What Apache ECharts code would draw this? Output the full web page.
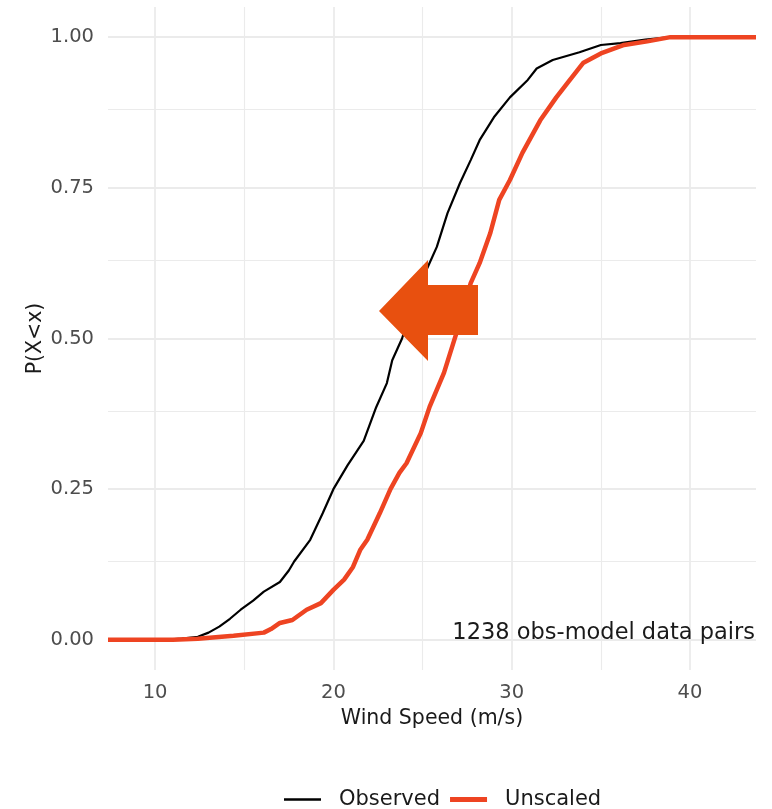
<!DOCTYPE html>
<html>
<head>
<meta charset="utf-8">
<title>Wind speed ECDF</title>
<script src="https://cdn.jsdelivr.net/npm/echarts@6/dist/echarts.min.js"></script>
<style>
  html, body { margin: 0; padding: 0; background: #ffffff; }
  #main { width: 772px; height: 809px; }
</style>
</head>
<body>
<div id="main"></div>
<script>
// axis ticks
var xTicks = [10, 20, 30, 40];
var xMinor = [15, 25, 35];
var yTicks = [0, 0.25, 0.5, 0.75, 1];
var yMinor = [0.125, 0.375, 0.625, 0.875];

// Observed ECDF
var obsX = [7.36, 10.5, 11.5, 12.4, 13.0, 13.6, 14.2, 14.8, 15.5, 16.1, 17.0, 17.5, 17.8, 18.7, 19.4, 20.0, 20.8, 21.7, 22.4, 23.0, 23.3, 23.85, 24.4, 25.0, 25.3, 25.8, 26.4, 27.1, 27.7, 28.2, 29.0, 29.9, 30.9, 31.4, 32.3, 33.8, 35.0, 36.1, 37.5, 38.9, 43.7];
var obsY = [0, 0, 0.002, 0.005, 0.012, 0.022, 0.035, 0.05, 0.065, 0.08, 0.096, 0.115, 0.13, 0.166, 0.21, 0.25, 0.29, 0.33, 0.386, 0.426, 0.464, 0.50, 0.55, 0.60, 0.619, 0.652, 0.708, 0.758, 0.796, 0.829, 0.867, 0.90, 0.929, 0.948, 0.962, 0.975, 0.987, 0.99, 0.996, 1.0, 1.0];

// Unscaled model ECDF
var unsX = [7.36, 11.0, 12.4, 14.4, 16.1, 16.5, 17.0, 17.7, 18.5, 19.3, 20.0, 20.6, 21.1, 21.5, 21.9, 22.6, 23.2, 23.7, 24.1, 24.9, 25.4, 26.2, 26.9, 27.3, 27.7, 28.2, 28.8, 29.3, 29.9, 30.6, 31.6, 32.5, 33.1, 34.0, 35.0, 36.3, 37.6, 38.9, 43.7];
var unsY = [0, 0, 0.002, 0.007, 0.012, 0.018, 0.028, 0.033, 0.05, 0.061, 0.083, 0.10, 0.121, 0.149, 0.166, 0.21, 0.25, 0.277, 0.293, 0.343, 0.387, 0.443, 0.509, 0.55, 0.592, 0.625, 0.675, 0.73, 0.763, 0.808, 0.862, 0.90, 0.923, 0.957, 0.973, 0.987, 0.993, 1.0, 1.0];

var nPairs = 1238;

function pairs(xs, ys) {
  var out = [];
  for (var i = 0; i < xs.length; i++) out.push([xs[i], ys[i]]);
  return out;
}

var gridMajor = { color: '#EBEBEB', width: 1.8, type: 'solid' };
var gridMinor = { color: '#EBEBEB', width: 1.1, type: 'solid' };
var gridLines = [];
xTicks.forEach(function (v) { gridLines.push({ xAxis: v, lineStyle: gridMajor }); });
xMinor.forEach(function (v) { gridLines.push({ xAxis: v, lineStyle: gridMinor }); });
yTicks.forEach(function (v) { gridLines.push({ yAxis: v, lineStyle: gridMajor }); });
yMinor.forEach(function (v) { gridLines.push({ yAxis: v, lineStyle: gridMinor }); });

var font = 'DejaVu Sans';
var myChart = echarts.init(document.getElementById('main'));

var option = {
  animation: false,
  textStyle: { fontFamily: font },
  grid: { left: 108, right: 16, top: 7, bottom: 139, containLabel: false },
  xAxis: {
    type: 'value',
    min: 7.36,
    max: 43.7,
    name: 'Wind Speed (m/s)',
    nameLocation: 'middle',
    nameGap: 37,
    nameTextStyle: { color: '#1a1a1a', fontSize: 20.5, fontFamily: font },
    axisLine: { show: false },
    axisTick: { show: false },
    splitLine: { show: false },
    axisLabel: {
      customValues: xTicks,
      color: '#4D4D4D',
      fontSize: 19.5,
      margin: 13,
      fontFamily: font
    }
  },
  yAxis: {
    type: 'value',
    min: -0.05,
    max: 1.05,
    name: 'P(X<x)',
    nameLocation: 'middle',
    nameRotate: 90,
    nameGap: 62,
    nameMoveOverlap: false,
    nameTextStyle: { color: '#1a1a1a', fontSize: 20.5, fontFamily: font },
    axisLine: { show: false },
    axisTick: { show: false },
    splitLine: { show: false },
    axisLabel: {
      customValues: yTicks,
      color: '#4D4D4D',
      fontSize: 19.5,
      margin: 14,
      fontFamily: font,
      formatter: function (v) { return v.toFixed(2); }
    }
  },
  legend: {
    data: [
      { name: 'Observed', icon: 'path://M0,0L0.001,0L0.001,6L0,6Z M0,1.8H37V4.2H0Z' },
      { name: 'Unscaled', icon: 'path://M0,0L0.001,0L0.001,6L0,6Z M0,0.6H37V5.4H0Z' }
    ],
    left: 279,
    top: 784,
    itemWidth: 37,
    itemHeight: 6,
    itemGap: 10,
    textStyle: { color: '#1a1a1a', fontSize: 21, fontFamily: font, padding: [0, 0, 0, 13] }
  },
  series: [
    {
      name: 'gridlines',
      type: 'line',
      data: [],
      silent: true,
      markLine: {
        silent: true,
        z: 0,
        symbol: 'none',
        label: { show: false },
        emphasis: { disabled: true },
        data: gridLines
      }
    },
    {
      name: 'Observed',
      type: 'line',
      data: pairs(obsX, obsY),
      showSymbol: false,
      symbol: 'none',
      lineStyle: { color: '#000000', width: 2.2 },
      itemStyle: { color: '#000000' },
      z: 3
    },
    {
      name: 'Unscaled',
      type: 'line',
      data: pairs(unsX, unsY),
      showSymbol: false,
      symbol: 'none',
      lineStyle: { color: '#EE4422', width: 4.5 },
      itemStyle: { color: '#EE4422' },
      z: 4
    }
  ],
  graphic: [
    {
      type: 'text',
      right: 17,
      top: 622,
      z: 10,
      style: {
        text: nPairs + ' obs-model data pairs',
        fill: '#1a1a1a',
        fontSize: 22.5,
        fontFamily: font
      }
    },
    {
      // big arrow pointing left (annotation)
      type: 'polygon',
      z: 20,
      shape: {
        points: [[379, 311], [428, 260], [428, 285], [478, 285], [478, 335], [428, 335], [428, 361]]
      },
      style: { fill: '#E8500F' }
    }
  ]
};

myChart.setOption(option);
</script>
</body>
</html>
